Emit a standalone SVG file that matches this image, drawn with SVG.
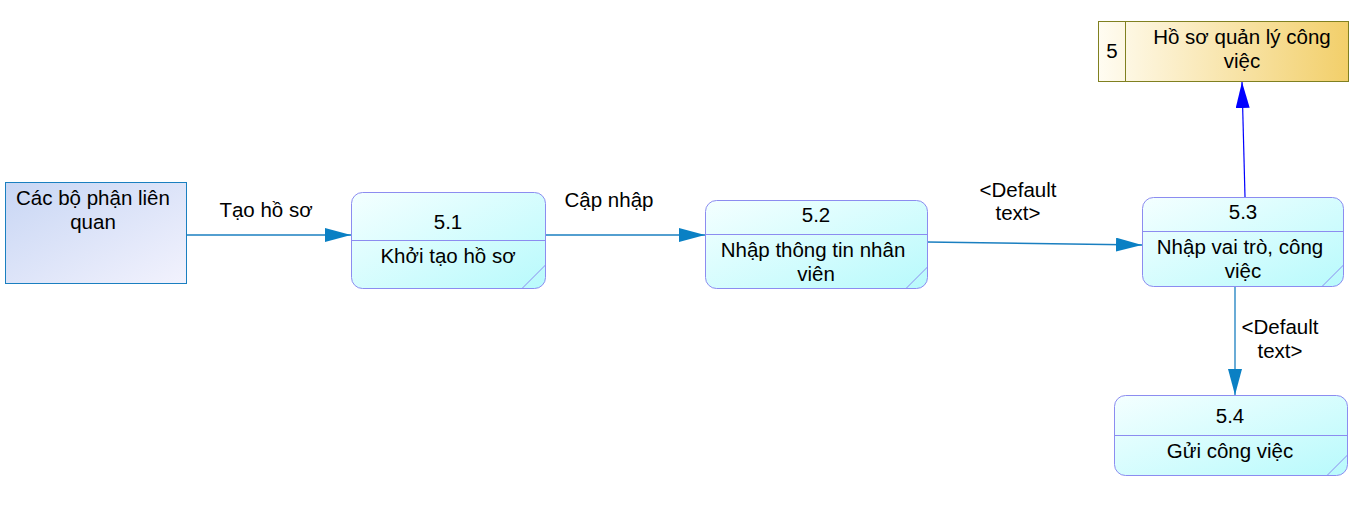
<svg xmlns="http://www.w3.org/2000/svg" width="1358" height="511" viewBox="0 0 1358 511">
<style>
text{font-family:"Liberation Sans",Arial,sans-serif;font-size:20.5px;fill:#000;text-anchor:middle}
.proc{fill:url(#gp);stroke:#8c8cf0;stroke-width:1}
.pl{stroke:#8c8cf0;stroke-width:1;fill:none}
.flow{stroke:#1a7fc0;stroke-width:1.3;fill:none}
</style>
<defs>
<linearGradient id="gp" x1="0" y1="0" x2="1" y2="1">
<stop offset="0" stop-color="#f4ffff"/><stop offset="1" stop-color="#b8fafc"/>
</linearGradient>
<linearGradient id="ge" x1="0" y1="0" x2="1" y2="1">
<stop offset="0" stop-color="#c8d6f4"/><stop offset="1" stop-color="#f2f2fd"/>
</linearGradient>
<linearGradient id="gs" x1="0" y1="0" x2="1" y2="0">
<stop offset="0" stop-color="#fffcf2"/><stop offset="1" stop-color="#f2cf6a"/>
</linearGradient>
<marker id="ar" markerWidth="26" markerHeight="14" refX="26" refY="7" orient="auto" markerUnits="userSpaceOnUse">
<path d="M0,0 L26,7 L0,14 Z" fill="#0a80c4"/>
</marker>
<marker id="arb" markerWidth="26" markerHeight="14" refX="26" refY="7" orient="auto" markerUnits="userSpaceOnUse">
<path d="M0,0 L26,7 L0,14 Z" fill="#0000ff"/>
</marker>
</defs>
<g id="connectors">
<line class="flow" x1="186" y1="235" x2="351" y2="235" marker-end="url(#ar)"/>
<text x="266" y="217">Tạo hồ sơ</text>
<line class="flow" x1="545" y1="235" x2="705" y2="235" marker-end="url(#ar)"/>
<text x="609" y="207">Cập nhập</text>
<line class="flow" x1="927" y1="242" x2="1142" y2="245" marker-end="url(#ar)"/>
<text x="1018" y="197">&lt;Default</text>
<text x="1018" y="220">text&gt;</text>
<line x1="1245" y1="197" x2="1242" y2="82" stroke="#0000ff" stroke-width="1.2" marker-end="url(#arb)"/>
<line class="flow" x1="1235" y1="286" x2="1235" y2="395" marker-end="url(#ar)"/>
<text x="1280" y="334">&lt;Default</text>
<text x="1280" y="358">text&gt;</text>
</g>
<g id="entity">
<rect x="5.5" y="182.5" width="181" height="101" fill="url(#ge)" stroke="#1a7fc0"/>
<text x="93" y="205">Các bộ phận liên</text>
<text x="93" y="229">quan</text>
</g>
<g id="store5">
<rect x="1098.5" y="21.5" width="250" height="60" fill="url(#gs)" stroke="#808020"/>
<line x1="1125.5" y1="21.5" x2="1125.5" y2="81.5" stroke="#808020"/>
<text x="1112" y="58">5</text>
<text x="1242" y="44">Hồ sơ quản lý công</text>
<text x="1242" y="68">việc</text>
</g>
<g id="p51">
<rect class="proc" x="351.5" y="192.5" width="194" height="96" rx="11"/>
<line class="pl" x1="351.5" y1="240.5" x2="545.5" y2="240.5"/>
<line class="pl" x1="522" y1="288.5" x2="545.5" y2="265"/>
<text x="448" y="229">5.1</text>
<text x="448" y="263">Khởi tạo hồ sơ</text>
</g>
<g id="p52">
<rect class="proc" x="705.5" y="200.5" width="222" height="88" rx="11"/>
<line class="pl" x1="705.5" y1="234.5" x2="927.5" y2="234.5"/>
<line class="pl" x1="906" y1="288.5" x2="927.5" y2="267"/>
<text x="816" y="222">5.2</text>
<text x="813" y="257">Nhập thông tin nhân</text>
<text x="816" y="281">viên</text>
</g>
<g id="p53">
<rect class="proc" x="1142.5" y="197.5" width="201" height="89" rx="11"/>
<line class="pl" x1="1142.5" y1="231.5" x2="1343.5" y2="231.5"/>
<line class="pl" x1="1322" y1="286.5" x2="1343.5" y2="265"/>
<text x="1243" y="219">5.3</text>
<text x="1240" y="254">Nhập vai trò, công</text>
<text x="1243" y="278">việc</text>
</g>
<g id="p54">
<rect class="proc" x="1114.5" y="395.5" width="233" height="80" rx="11"/>
<line class="pl" x1="1114.5" y1="435.5" x2="1347.5" y2="435.5"/>
<line class="pl" x1="1327" y1="475.5" x2="1347.5" y2="455"/>
<text x="1230" y="423">5.4</text>
<text x="1230" y="458">Gửi công việc</text>
</g>
</svg>
